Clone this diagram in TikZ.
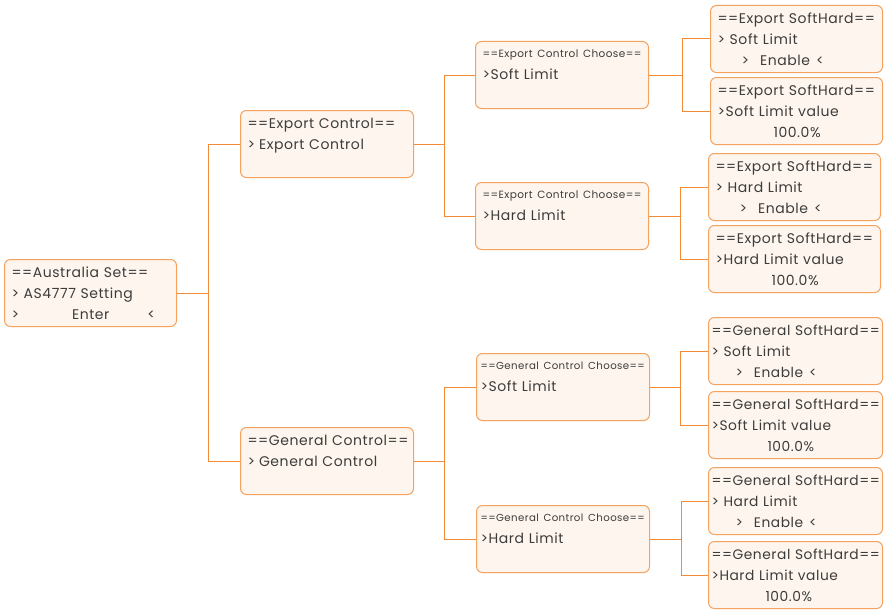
\documentclass[tikz,border=0pt]{standalone}
\usepackage{fontspec}
\setmainfont[LetterSpace=4]{Poppins}
\usetikzlibrary{positioning,calc}
\definecolor{lineor}{HTML}{F28A36}
\definecolor{boxor}{HTML}{F5A25E}
\definecolor{boxbg}{HTML}{FEF6EE}
\definecolor{txtgr}{HTML}{3C3C3C}
\def\sm{\fontsize{10.5}{12}\selectfont}
\def\smg{\fontsize{10.2}{12}\selectfont}
\def\gap#1{\hspace*{#1pt}}
\tikzset{scr/.style={draw=boxor,fill=boxbg,rounded corners=6pt,line width=1pt,anchor=north west,
  minimum height=67pt,text width=#1,align=left,inner xsep=7pt,inner ysep=0pt,text=txtgr,
  font=\fontsize{14}{21}\selectfont}}
\tikzset{gscr/.style={scr=#1,inner xsep=3pt,font=\fontsize{13.8}{21}\selectfont}}
\tikzset{link/.style={draw=lineor,line width=1pt}}

\begin{document}
\begin{tikzpicture}[x=1pt,y=-1pt]
	\useasboundingbox (0,0) rectangle (885,610);
	% left part
	\node[scr=158pt] (au) at (4,259) {==Australia Set==\\> AS4777 Setting\\>\gap{53}Enter\gap{38}<};
	\node[scr=159pt] (ec) at (240,110) {\mbox{==Export Control==}\\>\gap{4}Export Control\\ ~};
	\node[scr=159pt] (gc) at (240,427) {\mbox{==General Control==}\\>\gap{4}General Control\\ ~};
	% choose screens
	\node[scr=159pt] (ecs) at (475,41) {\mbox{\sm ==Export Control Choose==}\\[1pt]>Soft Limit\\ ~};
	\node[scr=159pt] (ech) at (475,182) {\mbox{\sm ==Export Control Choose==}\\[1pt]>Hard Limit\\ ~};
	\node[scr=165pt,inner xsep=4pt] (gcs) at (476,353) {\mbox{\smg ==General Control Choose==}\\[1pt]>Soft Limit\\ ~};
	\node[scr=165pt,inner xsep=4pt] (gch) at (476,505) {\mbox{\smg ==General Control Choose==}\\[1pt]>Hard Limit\\ ~};
	% SoftHard screens
	\node[scr=158pt] (ecs1) at (710,5) {\mbox{==Export SoftHard==}\\> Soft Limit\\\gap{24}>\gap{11}Enable\gap{6}<};
	\node[scr=158pt] (ecs2) at (710,77) {\mbox{==Export SoftHard==}\\>Soft Limit value\\\gap{56}100.0\%};
	\node[scr=158pt] (ech1) at (708,153) {\mbox{==Export SoftHard==}\\> Hard Limit\\\gap{24}>\gap{11}Enable\gap{6}<};
	\node[scr=158pt] (ech2) at (708,225) {\mbox{==Export SoftHard==}\\>Hard Limit value\\\gap{56}100.0\%};
	\node[gscr=168pt] (gcs1) at (708,317) {\mbox{==General SoftHard==}\\> Soft Limit\\\gap{24}>\gap{11}Enable\gap{6}<};
	\node[gscr=168pt] (gcs2) at (708,391) {\mbox{==General SoftHard==}\\>Soft Limit value\\\gap{56}100.0\%};
	\node[gscr=168pt] (gch1) at (708,467) {\mbox{==General SoftHard==}\\> Hard Limit\\\gap{24}>\gap{11}Enable\gap{6}<};
	\node[gscr=168pt] (gch2) at (708,541) {\mbox{==General SoftHard==}\\>Hard Limit value\\\gap{54}100.0\%};

	\draw[link] (au.east) -- ++(31,0) coordinate (t0);
	\draw[link] (t0) |- (ec.west);
	\draw[link] (t0) |- (gc.west);
	\draw[link] (ec.east) -- ++(30,0) coordinate (t1);
	\draw[link] (t1) |- (ecs.west);
	\draw[link] (t1) |- (ech.west);
	\draw[link] (gc.east) -- ++(30,0) coordinate (t2);
	\draw[link] (t2) |- (gcs.west);
	\draw[link] (t2) |- (gch.west);
	\draw[link] (ecs.east) -- ++(33,0) coordinate (t3);
	\draw[link] (t3) |- (ecs1.west);
	\draw[link] (t3) |- (ecs2.west);
	\draw[link] (ech.east) -- ++(31,0) coordinate (t4);
	\draw[link] (t4) |- (ech1.west);
	\draw[link] (t4) |- (ech2.west);
	\draw[link] (gcs.east) -- ++(30,0) coordinate (t5);
	\draw[link] (t5) |- (gcs1.west);
	\draw[link] (t5) |- (gcs2.west);
	\draw[link] (gch.east) -- ++(31,0) coordinate (t6);
	\draw[link] (t6) |- (gch1.west);
	\draw[link] (t6) |- (gch2.west);
\end{tikzpicture}
\end{document}
